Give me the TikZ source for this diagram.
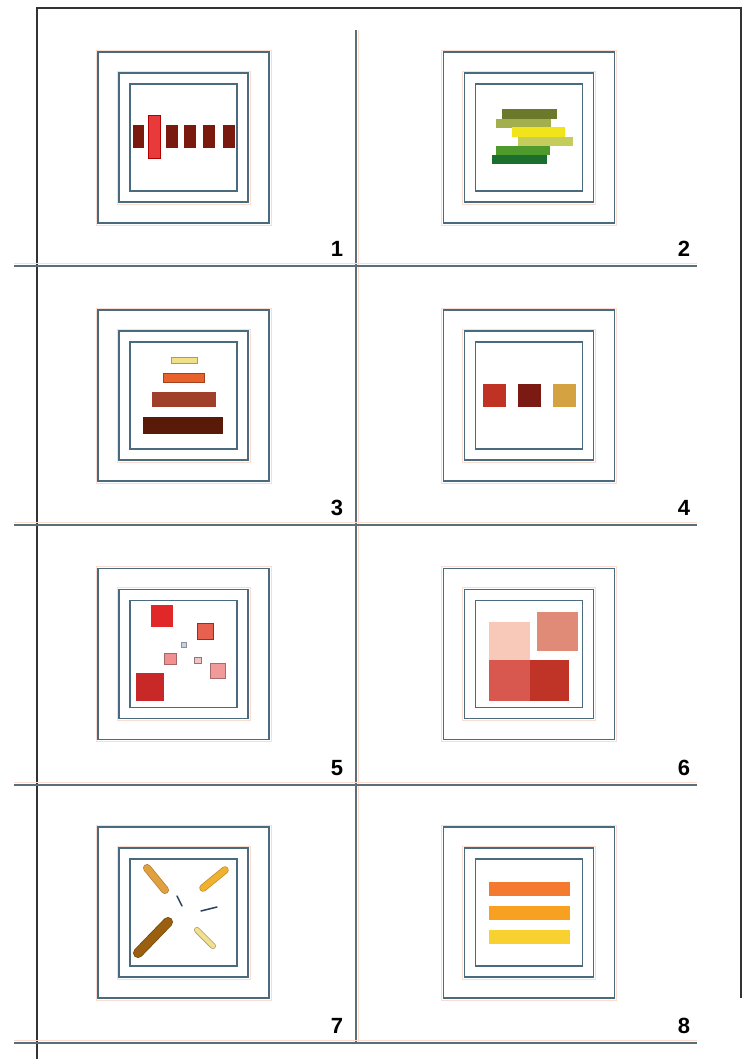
\documentclass[tikz,border=0pt]{standalone}
\usepackage{fontspec}
\setmainfont{Liberation Sans}
\definecolor{frameblue}{HTML}{4A6A7E}
\definecolor{salmon}{HTML}{FADCD0}
\definecolor{gridgrey}{HTML}{5E6E78}
\definecolor{darkred}{HTML}{7A1A0E}
\definecolor{brightred}{HTML}{E83A3A}
\definecolor{oliveA}{HTML}{6B7A2A}
\definecolor{oliveB}{HTML}{A3AE4C}
\definecolor{yellowC}{HTML}{F2E41A}
\definecolor{yellowD}{HTML}{C4CC5C}
\definecolor{greenE}{HTML}{4E9A2C}
\definecolor{greenF}{HTML}{1C6E2C}
\definecolor{paleY}{HTML}{F0E08A}
\definecolor{orangeB}{HTML}{E8602A}
\definecolor{brownC}{HTML}{A0402A}
\definecolor{brownD}{HTML}{5A1A0A}
\definecolor{redA}{HTML}{C03224}
\definecolor{redB}{HTML}{7A1A12}
\definecolor{goldC}{HTML}{D4A240}
\definecolor{sqA}{HTML}{E02828}
\definecolor{sqB}{HTML}{E86050}
\definecolor{sqC}{HTML}{C8D0E0}
\definecolor{sqD}{HTML}{F09090}
\definecolor{sqE}{HTML}{F0C4C4}
\definecolor{sqF}{HTML}{F09A9A}
\definecolor{sqG}{HTML}{C82828}
\definecolor{pinkA}{HTML}{F8C8B8}
\definecolor{salmonB}{HTML}{E08A78}
\definecolor{redC}{HTML}{D85850}
\definecolor{redD}{HTML}{C03428}
\definecolor{stickA}{HTML}{E0A040}
\definecolor{stickB}{HTML}{F0B030}
\definecolor{stickC}{HTML}{9A6010}
\definecolor{stickD}{HTML}{F0E090}
\definecolor{stickDark}{HTML}{2A4060}
\definecolor{barA}{HTML}{F47A30}
\definecolor{barB}{HTML}{F8A020}
\definecolor{barC}{HTML}{F8D030}
\tikzset{
  framesq/.style={draw=frameblue, line width=1.1pt},
  ghostsq/.style={draw=salmon, line width=0.7pt},
  gridline/.style={draw=gridgrey, line width=1.1pt},
  ghostline/.style={draw=salmon, line width=0.8pt},
  borderline/.style={draw=black!80, line width=1.2pt},
  numlabel/.style={font=\fontsize{22}{22}\selectfont\bfseries, inner sep=0pt},
  stick/.style={line cap=round, line width=#1},
}
\newcommand\drawpanel[3]{%
  \begin{scope}[shift={(#1,#2)}]
    \draw[ghostsq] (-87.5,-87.5) rectangle (87.5,87.5);
    \draw[ghostsq] (-66.5,-66.5) rectangle (66.5,66.5);
    \node[framesq, minimum size=171pt, inner sep=0pt] (#3outer) at (0,0) {};
    \node[framesq, minimum size=129pt, inner sep=0pt] (#3mid) at (0,0) {};
    \node[framesq, minimum size=107pt, inner sep=0pt] (#3inner) at (0,0) {};
  \end{scope}}
\begin{document}
\begin{tikzpicture}[x=1pt,y=-1pt]
\useasboundingbox (0,0) rectangle (750,1059);
\fill[white] (0,0) rectangle (750,1059);
% outer border
\coordinate (bl) at (37,1059);
\coordinate (tl) at (37,8);
\coordinate (tr) at (741,8);
\coordinate (br) at (741,998);
\draw[borderline] (bl) -- (tl) -- (tr) -- (br);
% grid
\coordinate (vt) at (356,30);
\coordinate (vb) at (356,1043);
\draw[ghostline] (358,30) -- (358,1043);
\draw[gridline] (vt) -- (vb);
\foreach \yy/\nm in {266/a,525/b,785/c,1043/d}{
  \coordinate (h\nm l) at (14,\yy);
  \coordinate (h\nm r) at (697,\yy);
  \draw[ghostline] (14,\yy-2.5) -- (697,\yy-2.5);
  \draw[gridline] (h\nm l) -- (h\nm r);
}
% panels
\drawpanel{183.5}{137.5}{p1}
\drawpanel{529}{137.5}{p2}
\drawpanel{183.5}{395.5}{p3}
\drawpanel{529}{395.5}{p4}
\drawpanel{183.5}{654}{p5}
\drawpanel{529}{654}{p6}
\drawpanel{183.5}{912.5}{p7}
\drawpanel{529}{912.5}{p8}
% labels
\node[numlabel] (n1) at (337,249) {1};
\node[numlabel] (n2) at (684,249) {2};
\node[numlabel] (n3) at (337,508) {3};
\node[numlabel] (n4) at (684,508) {4};
\node[numlabel] (n5) at (337,768) {5};
\node[numlabel] (n6) at (684,768) {6};
\node[numlabel] (n7) at (337,1026) {7};
\node[numlabel] (n8) at (684,1026) {8};
% panel 1
\fill[darkred] (133,125) rectangle (144,148);
\fill[brightred, draw=red!70!black, line width=0.4pt] (148,115) rectangle (160,158);
\fill[darkred] (166,125) rectangle (178,148);
\fill[darkred] (184,125) rectangle (196,148);
\fill[darkred] (203,125) rectangle (215,148);
\fill[darkred] (223,125) rectangle (235,148);
% panel 2
\fill[oliveA] (502,109) rectangle (557,119);
\fill[oliveB] (496,119) rectangle (551,128);
\fill[yellowC] (512,127) rectangle (565,137);
\fill[yellowD] (518,137) rectangle (573,146);
\fill[greenE] (496,146) rectangle (550,155);
\fill[greenF] (492,155) rectangle (547,164);
% panel 3
\filldraw[fill=paleY, draw=paleY!70!black, line width=0.4pt] (171,357) rectangle (197,363);
\filldraw[fill=orangeB, draw=orangeB!70!black, line width=0.4pt] (163,373) rectangle (204,382);
\fill[brownC] (152,392) rectangle (216,407);
\fill[brownD] (143,417) rectangle (223,434);
% panel 4
\fill[redA] (483,384) rectangle (506,407);
\fill[redB] (518,384) rectangle (541,407);
\fill[goldC] (553,384) rectangle (576,407);
% panel 5
\fill[sqA] (151,605) rectangle (173,627);
\filldraw[fill=sqB, draw=black!70, line width=0.6pt] (197,623) rectangle (213,639);
\filldraw[fill=sqC, draw=sqC!70!black, line width=0.3pt] (181,642) rectangle (186,647);
\filldraw[fill=sqD, draw=sqD!70!black, line width=0.3pt] (164,653) rectangle (176,664);
\filldraw[fill=sqE, draw=sqE!60!black, line width=0.3pt] (194,657) rectangle (201,663);
\filldraw[fill=sqF, draw=sqF!70!black, line width=0.3pt] (210,663) rectangle (225,678);
\fill[sqG] (136,673) rectangle (164,701);
% panel 6
\fill[pinkA] (489,622) rectangle (530,662);
\fill[salmonB] (537,612) rectangle (578,651);
\fill[redC] (489,660) rectangle (530,701);
\fill[redD] (530,660) rectangle (569,701);
% panel 7
\draw[stick=8pt, draw=stickA!80!black] (147,868) -- (165,890);
\draw[stick=6.5pt, draw=stickA] (147,868) -- (165,890);
\draw[stick=7.5pt, draw=stickB!80!black] (203,888) -- (225,870);
\draw[stick=6pt, draw=stickB] (203,888) -- (225,870);
\draw[stick=1.5pt, draw=stickDark] (177,896) -- (182,906);
\draw[stick=1.5pt, draw=stickDark] (201,911) -- (217,907);
\draw[stick=10pt, draw=stickC!75!black] (138,953) -- (168,922);
\draw[stick=8.5pt, draw=stickC] (138,953) -- (168,922);
\draw[stick=6pt, draw=stickD!70!black] (197,930) -- (213,946);
\draw[stick=4.5pt, draw=stickD] (197,930) -- (213,946);
% panel 8
\fill[barA] (489,882) rectangle (570,896);
\fill[barB] (489,906) rectangle (570,920);
\fill[barC] (489,930) rectangle (570,944);
\end{tikzpicture}
\end{document}
